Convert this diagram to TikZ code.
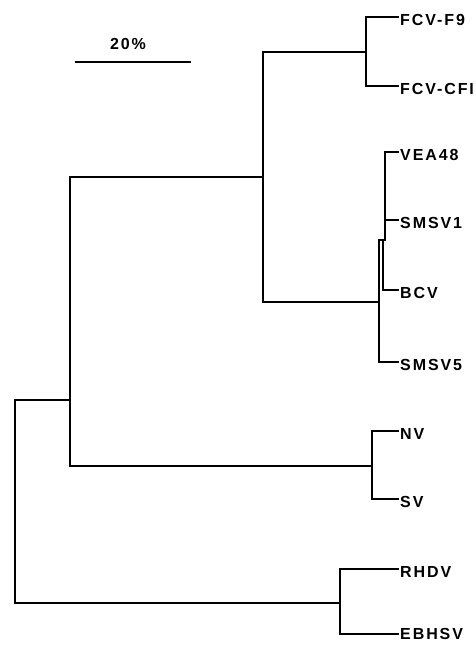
\documentclass[tikz,border=0pt]{standalone}
\usepackage{fontspec}
\setmainfont{Liberation Sans}
\usetikzlibrary{positioning}

\begin{document}
\begin{tikzpicture}[x=1pt,y=-1pt,
    branch/.style={line width=2.4pt,line cap=rect},
    taxon/.style={inner sep=0pt,font=\fontsize{16}{19}\selectfont\bfseries\addfontfeature{LetterSpace=12}},
    taxlab/.style={taxon,anchor=west,yshift=-3pt}]
      \useasboundingbox (0,0) rectangle (476,645);

      % scale bar
      \coordinate (bar1) at (76,62);
      \coordinate (bar2) at (190,62);
      \draw[branch] (bar1) -- (bar2);
      \node[taxon] (pct) at (128,44) {20\%};

      % internal nodes
      \coordinate (root) at (15,400);
      \coordinate (nA) at (70,400);
      \coordinate (nB) at (263,177);
      \coordinate (nfcv) at (366,52);
      \coordinate (nvc) at (379,302);
      \coordinate (nbcv) at (383,240);
      \coordinate (nvea) at (385,240);
      \coordinate (nnv) at (372,466);
      \coordinate (nrh) at (340,603);

      % leaves
      \coordinate (f9) at (398,17);
      \coordinate (cfi) at (398,86);
      \coordinate (vea) at (398,152);
      \coordinate (sm1) at (398,220);
      \coordinate (bcv) at (398,290);
      \coordinate (sm5) at (398,362);
      \coordinate (nv) at (398,431);
      \coordinate (sv) at (398,499);
      \coordinate (rhdv) at (398,569);
      \coordinate (ebhsv) at (398,634);

      \node[taxlab,right=2pt of f9] (f9l) {FCV-F9};
      \node[taxlab,right=2pt of cfi] (cfil) {FCV-CFI};
      \node[taxlab,right=2pt of vea] (veal) {VEA48};
      \node[taxlab,right=2pt of sm1] (sm1l) {SMSV1};
      \node[taxlab,right=2pt of bcv] (bcvl) {BCV};
      \node[taxlab,right=2pt of sm5] (sm5l) {SMSV5};
      \node[taxlab,right=2pt of nv] (nvl) {NV};
      \node[taxlab,right=2pt of sv] (svl) {SV};
      \node[taxlab,right=2pt of rhdv] (rhdvl) {RHDV};
      \node[taxlab,right=2pt of ebhsv,yshift=3pt] (ebhsvl) {EBHSV};

      % branches
      \draw[branch] (root) |- (nA);
      \draw[branch] (root) |- (nrh);
      \draw[branch] (nA) |- (nB);
      \draw[branch] (nA) |- (nnv);
      \draw[branch] (nB) |- (nfcv);
      \draw[branch] (nB) |- (nvc);
      \draw[branch] (nfcv) |- (f9);
      \draw[branch] (nfcv) |- (cfi);
      \draw[branch] (nvc) |- (nbcv);
      \draw[branch] (nvc) |- (sm5);
      \draw[branch] (nbcv) |- (nvea);
      \draw[branch] (nbcv) |- (bcv);
      \draw[branch] (nvea) |- (vea);
      \draw[branch] (nvea) |- (sm1);
      \draw[branch] (nnv) |- (nv);
      \draw[branch] (nnv) |- (sv);
      \draw[branch] (nrh) |- (rhdv);
      \draw[branch] (nrh) |- (ebhsv);

    \end{tikzpicture}
\end{document}
